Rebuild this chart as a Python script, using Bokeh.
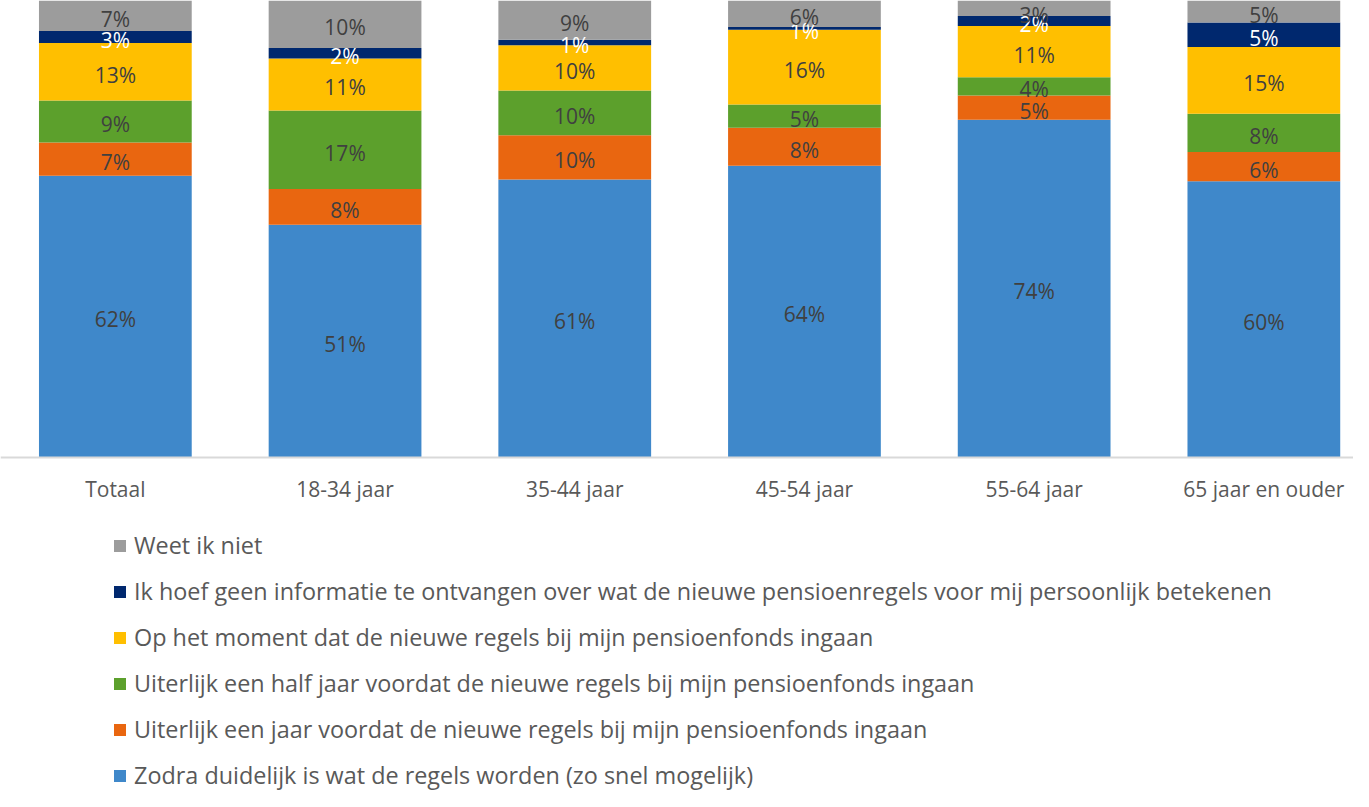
import numpy as np
from bokeh.plotting import figure
from bokeh.models import ColumnDataSource, Range1d, FixedTicker, Legend, LegendItem, LinearAxis
from bokeh.embed import file_html
from bokeh.resources import INLINE
from bokeh.core.properties import value

categories = ["Totaal", "18-34 jaar", "35-44 jaar", "45-54 jaar", "55-64 jaar", "65 jaar en ouder"]
zodra = [61.6, 50.9, 60.8, 63.8, 73.9, 60.4]
jaar = [7.3, 7.8, 9.7, 8.3, 5.3, 6.4]
half = [9.2, 17.2, 9.8, 5.1, 4.0, 8.4]
moment = [12.6, 11.4, 9.9, 16.4, 11.2, 14.6]
geen = [2.6, 2.3, 1.2, 0.6, 2.2, 5.4]
weet = [6.7, 10.4, 8.6, 5.8, 3.4, 4.8]

series_keys = ["zodra", "jaar", "half", "moment", "geen", "weet"]
series_labels = [
    "Zodra duidelijk is wat de regels worden (zo snel mogelijk)",
    "Uiterlijk een jaar voordat de nieuwe regels bij mijn pensioenfonds ingaan",
    "Uiterlijk een half jaar voordat de nieuwe regels bij mijn pensioenfonds ingaan",
    "Op het moment dat de nieuwe regels bij mijn pensioenfonds ingaan",
    "Ik hoef geen informatie te ontvangen over wat de nieuwe pensioenregels voor mij persoonlijk betekenen",
    "Weet ik niet",
]
colors = ["#3F88CA", "#E96610", "#5CA02C", "#FFBF00", "#00286E", "#9C9C9C"]
label_colors = ["#404040", "#404040", "#404040", "#404040", "#FFFFFF", "#404040"]

values = [zodra, jaar, half, moment, geen, weet]
xs = list(range(len(categories)))
data = {"x": xs}
for k, v in zip(series_keys, values):
    data[k] = v
src = ColumnDataSource(data)

W, H = 1353, 791
pitch = 229.7
px_per_unit = 4.565
x_start = -0.5
x_end = x_start + W / pitch
y_end = 100.0
y_start = y_end - H / px_per_unit

p = figure(width=W, height=H, output_backend="svg", toolbar_location=None,
           x_range=Range1d(x_start, x_end), y_range=Range1d(y_start, y_end),
           x_axis_location=None, y_axis_location=None,
           min_border_left=0, min_border_right=0, min_border_top=0, min_border_bottom=0)
p.outline_line_color = None
p.xgrid.visible = False
p.ygrid.visible = False
p.background_fill_color = "white"
p.border_fill_color = "white"

renderers = p.vbar_stack(series_keys, x="x", width=0.665, color=colors, line_color=None, source=src)

# data labels (kept inside the plot area near the top edge)
arr = np.array(values)
cum = np.cumsum(arr, axis=0)
mids = np.minimum(cum - arr / 2.0, y_end - 2.6)
lx, ly, lt, lc = [], [], [], []
for i in range(len(series_keys)):
    for j in range(len(categories)):
        lx.append(xs[j]); ly.append(mids[i, j])
        lt.append(f"{values[i][j]:.0f}%"); lc.append(label_colors[i])
lsrc = ColumnDataSource(dict(x=lx, y=ly, t=lt, c=lc))
p.text(x="x", y="y", text="t", source=lsrc, text_color="c", text_align="center",
       text_baseline="middle", text_font=value("Open Sans"), text_font_size="21px", y_offset=3)

axis = LinearAxis(fixed_location=0, ticker=FixedTicker(ticks=xs),
                  major_label_overrides={x: c for x, c in zip(xs, categories)})
axis.axis_line_color = "#D9D9D9"
axis.axis_line_width = 2
axis.major_tick_line_color = None
axis.minor_tick_line_color = None
axis.major_label_standoff = 12
axis.major_label_text_font = "Open Sans"
axis.major_label_text_font_size = "21px"
axis.major_label_text_color = "#595959"
p.add_layout(axis, "below")

items = [LegendItem(label=series_labels[i], renderers=[renderers[i]]) for i in reversed(range(len(series_keys)))]
legend = Legend(items=items, location=(112, 0), orientation="vertical",
                glyph_width=15, glyph_height=15, label_standoff=7, label_height=32,
                spacing=14, padding=0, margin=0, border_line_color=None,
                background_fill_alpha=0, label_text_font="Open Sans",
                label_text_font_size="23.4px", label_text_color="#595959")
p.add_layout(legend, "center")

open("out.html", "w").write(file_html(p, INLINE))
